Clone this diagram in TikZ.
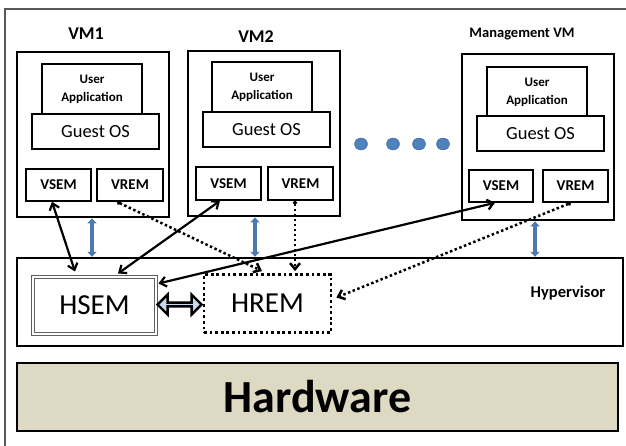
\documentclass[tikz,border=0pt]{standalone}
\usepackage{fontspec}
\setmainfont{Carlito}
\usetikzlibrary{arrows.meta,shapes.arrows,shapes.geometric,calc}
\definecolor{hwfill}{HTML}{DDD9C3}
\definecolor{arrblue}{HTML}{4A7AB0}
\definecolor{dotblue}{HTML}{4F81BD}
\definecolor{ablue}{HTML}{C6D9F1}
\begin{document}
\begin{tikzpicture}[x=1pt,y=-1pt,
  vmbox/.style={draw,line width=2.8pt,minimum width=152pt,minimum height=165pt,inner sep=0pt},
  uabox/.style={draw,line width=2.8pt,fill=white,minimum width=100pt,minimum height=51pt,inner sep=0pt,font=\bfseries\fontsize{13}{18}\selectfont,align=center},
  gosbox/.style={draw,line width=2.8pt,fill=white,minimum width=127pt,minimum height=35pt,inner sep=0pt,font=\fontsize{18.5}{20}\selectfont},
  smallbox/.style={draw,line width=1.6pt,fill=white,minimum width=65pt,minimum height=32pt,inner sep=0pt,font=\bfseries\fontsize{15}{16}\selectfont},
  vmlabel/.style={font=\bfseries\fontsize{18}{20}\selectfont},
  bigarr/.style={line width=2.2pt,{Straight Barb[length=6pt,width=10pt]}-{Straight Barb[length=6pt,width=10pt]}},
  dotarr/.style={line width=2.5pt,dash pattern=on 2.5pt off 2.5pt,{Circle[length=4pt,width=4pt]}-{Straight Barb[length=6pt,width=10pt]}},
  bluearr/.style={arrblue,line width=3.5pt,{Triangle[length=5pt,width=9pt]}-{Triangle[length=5pt,width=9pt]}},
  bluedot/.style={draw=dotblue!80!black,fill=dotblue,ellipse,minimum width=13pt,minimum height=12pt,inner sep=0pt}
]
\useasboundingbox (0,0) rectangle (626,446);
% outer frame
\draw[gray!70!black,line width=1.2pt] (5,9) rectangle (640,470);

% VM1
\node[vmbox] (vm1) at (93,134.5) {};
\node[uabox] (ua1) at (92,89.5) {User\\Application};
\node[gosbox] (gos1) at (95.5,131.5) {Guest OS};
\node[smallbox] (vsem1) at (58.5,185) {VSEM};
\node[smallbox,minimum width=66pt] (vrem1) at (130,185) {VREM};
\node[vmlabel] (lvm1) at (86,34) {VM1};

% VM2
\node[vmbox] (vm2) at (264,133.5) {};
\node[uabox] (ua2) at (262,87.5) {User\\Application};
\node[gosbox] (gos2) at (266.5,129.5) {Guest OS};
\node[smallbox,minimum height=33pt] (vsem2) at (228.5,183.5) {VSEM};
\node[smallbox,minimum height=33pt] (vrem2) at (300.5,183.5) {VREM};
\node[vmlabel] (lvm2) at (256,37) {VM2};

% Management VM
\node[vmbox,minimum height=166pt] (vm3) at (538,137) {};
\node[uabox,minimum height=50pt] (ua3) at (537,92) {User\\Application};
\node[gosbox] (gos3) at (540.5,133.5) {Guest OS};
\node[smallbox,minimum width=64pt] (vsem3) at (501,186) {VSEM};
\node[smallbox] (vrem3) at (575.5,186) {VREM};
\node[font=\bfseries\fontsize{14.5}{15}\selectfont] (lvm3) at (522,34) {Management VM};

% dots
\node[bluedot] (d1) at (361,144) {};
\node[bluedot] (d2) at (393,144) {};
\node[bluedot] (d3) at (419,144) {};
\node[bluedot] (d4) at (443,144) {};

% Hypervisor
\node[draw,line width=2.4pt,minimum width=606pt,minimum height=88pt,inner sep=0pt] (hyp) at (320,302) {};
\node[font=\bfseries\fontsize{16.5}{18}\selectfont] (lhyp) at (568,293) {Hypervisor};
\node[draw=gray!75!black,double=white,double distance=2pt,line width=1pt,minimum width=123pt,minimum height=57pt,inner sep=0pt,font=\fontsize{29}{32}\selectfont] (hsem) at (94.5,305.5) {HSEM};
\node[draw,line width=2.8pt,dash pattern=on 2.8pt off 2.8pt,minimum width=127pt,minimum height=58pt,inner sep=0pt,font=\fontsize{29}{32}\selectfont] (hrem) at (267.5,303.5) {HREM};
\node[double arrow,draw,line width=2.4pt,fill=ablue,minimum height=44pt,minimum width=20pt,double arrow head extend=5pt,inner sep=0pt] (link) at ($(hsem.east)!0.5!(hrem.west)$) {};

% Hardware
\node[draw,line width=2.6pt,fill=hwfill,minimum width=601pt,minimum height=68pt,inner sep=0pt,font=\bfseries\fontsize{46}{50}\selectfont] (hw) at (317.5,397) {Hardware};

% blue arrows
\draw[bluearr] ([xshift=-1pt]vm1.south) -- ([xshift=-1pt]vm1.south |- hyp.north);
\draw[bluearr] ([xshift=-9pt]vm2.south) -- ([xshift=-9pt]vm2.south |- hyp.north);
\draw[bluearr] ([xshift=-3pt]vm3.south) -- ([xshift=-3pt]vm3.south |- hyp.north);

% solid arrows
\draw[bigarr] ([xshift=-6.5pt]vsem1.south) -- ([xshift=-19.5pt,yshift=5pt]hsem.north);
\draw[bigarr] ([xshift=-8.5pt]vsem2.south) -- ([xshift=23.5pt,yshift=3pt]hsem.north);
\draw[bigarr] ([xshift=-6pt]vsem3.south) -- ([yshift=-7pt,xshift=2pt]hsem.north east);

% dotted arrows
\draw[dotarr] ([xshift=-13pt]vrem1.south) -- ([xshift=-5.5pt,yshift=2pt]hrem.north);
\draw[dotarr] ([xshift=-5.5pt]vrem2.south) -- ([xshift=-5.5pt,yshift=2pt]vrem2.south |- hrem.north);
\draw[dotarr] ([xshift=-4.5pt]vrem3.south) -- ([yshift=6pt,xshift=4pt]hrem.east);
\end{tikzpicture}
\end{document}
